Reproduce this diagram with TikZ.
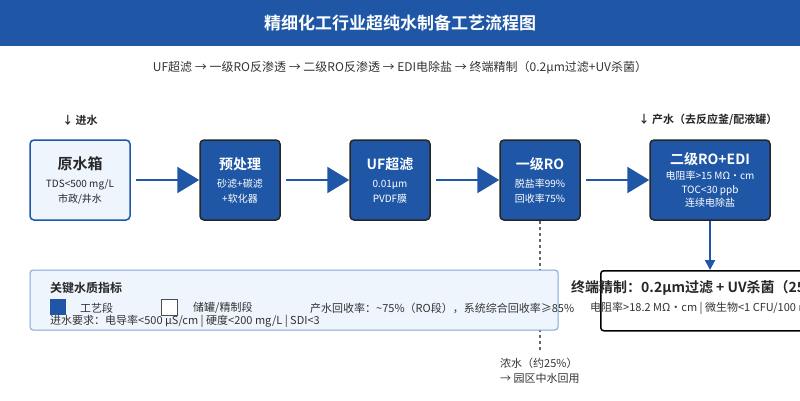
\documentclass[tikz,border=0pt]{standalone}
\usepackage{fontspec}
\setmainfont{Noto Sans CJK SC}
\newfontfamily\cjkb{Noto Sans CJK SC Bold}
\usetikzlibrary{arrows.meta}
\definecolor{mblue}{HTML}{1F57A6}
\definecolor{lfill}{HTML}{EEF5FD}
\definecolor{lborder}{HTML}{7FA6D8}
\definecolor{tgray}{HTML}{333333}
\newcommand\hd[1]{{\cjkb\fontsize{14}{17}\selectfont #1}}
\tikzset{
 proc/.style={draw=black!85,line width=1.5pt,fill=mblue,rounded corners=4pt,minimum width=80pt,minimum height=80pt,text=white,align=center,font=\fontsize{10}{15}\selectfont},
 tank/.style={draw=mblue,line width=1.5pt,fill=lfill,rounded corners=4pt,minimum width=100pt,minimum height=80pt,text=black!85,align=center,font=\fontsize{10}{15}\selectfont},
 flow/.style={draw=mblue,line width=2.5pt,-{Triangle[width=26pt,length=22pt]}},
 lbl/.style={font=\fontsize{11}{13}\selectfont,text=tgray,inner sep=0pt},
}
\begin{document}
\begin{tikzpicture}[x=1pt,y=-1pt]
\useasboundingbox (0,0) rectangle (800,400);
\clip (0,0) rectangle (800,400);
\fill[mblue] (0,0) rectangle (800,46);
\node[text=white,font=\cjkb\fontsize{17}{20}\selectfont] (title) at (400,23) {精细化工行业超纯水制备工艺流程图};
\node[text=tgray,font=\fontsize{12}{14}\selectfont] (sub) at (400,68) {UF超滤 → 一级RO反渗透 → 二级RO反渗透 → EDI电除盐 → 终端精制（0.2μm过滤+UV杀菌）};
\node[font=\cjkb\fontsize{11}{13}\selectfont,text=black!85] (in) at (80,120) {↓ 进水};
\node[font=\cjkb\fontsize{11}{13}\selectfont,text=black!85] (out) at (708,120) {↓ 产水（去反应釜/配液罐）};
\node[tank] (b0) at (80,180) {{\cjkb\fontsize{15}{18}\selectfont 原水箱}\\[3pt]TDS<500 mg/L\\市政/井水};
\node[proc] (b1) at (240,180) {\hd{预处理}\\[3pt]砂滤+碳滤\\+软化器};
\node[proc] (b2) at (390,180) {\hd{UF超滤}\\[3pt]0.01μm\\PVDF膜};
\node[proc] (b3) at (540,180) {\hd{一级RO}\\[3pt]脱盐率99\%\\回收率75\%};
\node[proc,minimum width=120pt,font=\fontsize{10}{13.5}\selectfont] (b4) at (710,180) {\hd{二级RO+EDI}\\[2pt]电阻率>15 MΩ・cm\\TOC<30 ppb\\连续电除盐};
\draw[flow] (b0.east)++(5,0) -- (b1.west);
\draw[flow] (b1.east)++(5,0) -- (b2.west);
\draw[flow] (b2.east)++(5,0) -- (b3.west);
\draw[flow] (b3.east)++(5,0) -- (b4.west);
\coordinate (dend) at (540,352);
\draw[black!60,dashed,line width=1.2pt] (b3.south) -- (dend);
% legend
\draw[lborder,fill=lfill,line width=1pt,rounded corners=3pt] (30,270) rectangle (558,330);
\node[lbl,anchor=west] (c1) at (500,363) {浓水（约25\%）};
\node[lbl,anchor=west] (c2) at (500,378) {→ 园区中水回用};
\node[draw=black,line width=1.5pt,fill=white,rounded corners=3pt,minimum width=230pt,minimum height=60pt,anchor=north west] (fin) at (600,270) {};
\draw[mblue,line width=2pt,-{Triangle[width=10pt,length=10pt]}] (b4.south) -- (fin.north -| b4.south);
\node[font=\cjkb\fontsize{14}{17}\selectfont,text=black!85,anchor=west,inner sep=0pt] (f1) at (571,288) {终端精制：0.2μm过滤 + UV杀菌（25℃）};
\node[lbl,anchor=west] (f2) at (590,308) {电阻率>18.2 MΩ・cm | 微生物<1 CFU/100 mL};
\node[font=\cjkb\fontsize{12}{14}\selectfont,text=black!85,anchor=west,inner sep=0pt] (lt) at (50,288) {关键水质指标};
\node[fill=mblue,minimum size=16pt,inner sep=0pt] (sq1) at (58,307) {};
\node[lbl,anchor=west] (l1) at (80,308) {工艺段};
\node[draw=black!70,fill=white,line width=1pt,minimum size=16pt,inner sep=0pt] (sq2) at (169,307) {};
\node[lbl,anchor=west] (l2) at (193,308) {储罐/精制段};
\node[lbl,anchor=west] (l3) at (310,308) {产水回收率：\textasciitilde75\%（RO段），系统综合回收率≥85\%};
\node[lbl,anchor=west] (l4) at (50,321) {进水要求：电导率<500 μS/cm | 硬度<200 mg/L | SDI<3};
\end{tikzpicture}
\end{document}
